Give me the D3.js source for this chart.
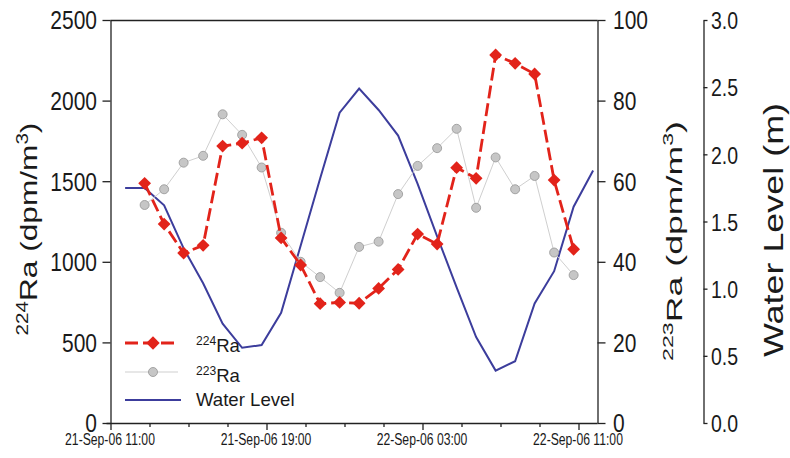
<!DOCTYPE html>
<html><head><meta charset="utf-8">
<script src="https://cdn.jsdelivr.net/npm/d3@7"></script>
<style>
body{margin:0;background:#fff}
svg{display:block}
text{font-family:"Liberation Sans",Arial,Helvetica,sans-serif;fill:#1a1a1a}
</style>
</head><body>
<svg id="c" width="790" height="458"></svg>
<script>
// ---------- data ----------
const sampleTimes = [
  "2006-09-21T12:45","2006-09-21T13:45","2006-09-21T14:45","2006-09-21T15:45",
  "2006-09-21T16:45","2006-09-21T17:45","2006-09-21T18:45","2006-09-21T19:45",
  "2006-09-21T20:45","2006-09-21T21:45","2006-09-21T22:45","2006-09-21T23:45",
  "2006-09-22T00:45","2006-09-22T01:45","2006-09-22T02:45","2006-09-22T03:45",
  "2006-09-22T04:45","2006-09-22T05:45","2006-09-22T06:45","2006-09-22T07:45",
  "2006-09-22T08:45","2006-09-22T09:45","2006-09-22T10:45"];
const ra224 = [1487,1234,1054,1102,1718,1736,1769,1148,980,740,748,743,
               835,953,1172,1110,1584,1518,2283,2231,2165,1507,1078];
const ra223 = [54.1,58.0,64.6,66.3,76.6,71.5,63.4,47.2,40.0,36.2,32.3,43.7,
               45.0,56.8,63.8,68.2,73.0,53.4,65.9,58.0,61.3,42.3,36.7];
const levelTimes = [
  "2006-09-21T11:45","2006-09-21T12:45","2006-09-21T13:45","2006-09-21T14:45",
  "2006-09-21T15:45","2006-09-21T16:45","2006-09-21T17:45","2006-09-21T18:45",
  "2006-09-21T19:45","2006-09-21T20:45","2006-09-21T21:45","2006-09-21T22:45",
  "2006-09-21T23:45","2006-09-22T00:45","2006-09-22T01:45","2006-09-22T02:45",
  "2006-09-22T03:45","2006-09-22T04:45","2006-09-22T05:45","2006-09-22T06:45",
  "2006-09-22T07:45","2006-09-22T08:45","2006-09-22T09:45","2006-09-22T10:45",
  "2006-09-22T11:45"];
const waterLevel = [1.75,1.75,1.62,1.30,1.04,0.74,0.56,0.58,0.82,1.32,1.82,2.31,
                    2.49,2.33,2.14,1.78,1.39,1.01,0.64,0.39,0.46,0.89,1.13,1.61,1.88];
const xDomain = ["2006-09-21T11:00","2006-09-22T12:00"];
const xTickTimes = ["2006-09-21T11:00","2006-09-21T13:00","2006-09-21T15:00","2006-09-21T17:00",
  "2006-09-21T19:00","2006-09-21T21:00","2006-09-21T23:00","2006-09-22T01:00",
  "2006-09-22T03:00","2006-09-22T05:00","2006-09-22T07:00","2006-09-22T09:00","2006-09-22T11:00"];
const xTickLabels = ["21-Sep-06 11:00","","","","21-Sep-06 19:00","","","",
  "22-Sep-06 03:00","","","","22-Sep-06 11:00"];
const y224Ticks = [0,500,1000,1500,2000,2500];
const y223Ticks = [0,20,40,60,80,100];
const levelTicks = [0,0.5,1.0,1.5,2.0,2.5,3.0];
const seriesNames = ["224Ra","223Ra","Water Level"];

// ---------- setup ----------
const P = d => new Date(d);
const svg = d3.select("#c");
const L = 110.5, R = 597.5, T = 20, B = 423, RW = 703.5;
const x = d3.scaleTime().domain(xDomain.map(P)).range([L, 598]);
const y224 = d3.scaleLinear().domain([0,2500]).range([B,T]);
const y223 = d3.scaleLinear().domain([0,100]).range([B,T]);
const yLvl = d3.scaleLinear().domain([0,3]).range([B,T]);

const RED = "#e2231a", BLUE = "#3c3d9c", GREYF = "#c6c6c6", GREYS = "#9c9c9c", AX = "#222";

// frame top line
svg.append("line").attr("x1",L).attr("x2",R).attr("y1",T+0.5).attr("y2",T+0.5)
  .attr("stroke",AX).attr("stroke-width",1.3);

function styleAxis(g){
  g.selectAll(".domain").attr("stroke",AX).attr("stroke-width",1.3);
  g.selectAll(".tick line").attr("stroke",AX).attr("stroke-width",1.3);
}
// left axis
const gL = svg.append("g").attr("transform",`translate(${L},0)`)
  .call(d3.axisLeft(y224).tickValues(y224Ticks).tickSize(8).tickSizeOuter(0).tickFormat(d3.format("d")));
styleAxis(gL);
gL.selectAll(".tick text").attr("x",null).attr("dy","0.35em").attr("font-size",21)
  .attr("fill","#1a1a1a").attr("transform","translate(-13.5,0) scale(1,1.2)");
// right 223 axis
const gR = svg.append("g").attr("transform",`translate(${R},0)`)
  .call(d3.axisRight(y223).tickValues(y223Ticks).tickSize(8).tickSizeOuter(0).tickFormat(d3.format("d")));
styleAxis(gR);
gR.selectAll(".tick text").attr("x",null).attr("dy","0.35em").attr("font-size",21)
  .attr("fill","#1a1a1a").attr("transform","translate(15.5,0) scale(1,1.2)");
// water level axis
const gW = svg.append("g").attr("transform",`translate(${RW},0)`)
  .call(d3.axisRight(yLvl).tickValues(levelTicks).tickSize(4).tickSizeOuter(0).tickFormat(d3.format(".1f")));
styleAxis(gW);
gW.selectAll(".tick text").attr("x",null).attr("dy","0.35em").attr("font-size",19.5)
  .attr("fill","#1a1a1a").attr("transform","translate(7.5,0) scale(1,1.27)");
// x axis
const gX = svg.append("g").attr("transform",`translate(0,${B})`)
  .call(d3.axisBottom(x).tickValues(xTickTimes.map(P)).tickSize(4).tickSizeOuter(0)
    .tickFormat((d,i)=>xTickLabels[i]));
styleAxis(gX);
gX.selectAll(".tick line").attr("y2",(d,i)=>xTickLabels[i] ? 7 : 4);
gX.selectAll(".tick text").filter((d,i)=>!xTickLabels[i]).remove();
gX.selectAll(".tick text").attr("y",null).attr("dy",null).attr("font-size",12.2)
  .attr("fill","#1a1a1a").attr("transform","translate(-1,22) scale(1,1.3)");
gX.select(".domain").attr("d",`M${L-4},0.5H${R}`);

// ---------- series ----------
const lvlData = levelTimes.map((t,i)=>({t:P(t),v:waterLevel[i]}));
const d224 = sampleTimes.map((t,i)=>({t:P(t),v:ra224[i]}));
const d223 = sampleTimes.map((t,i)=>({t:P(t),v:ra223[i]}));

svg.append("path").datum(lvlData).attr("fill","none").attr("stroke",BLUE).attr("stroke-width",2)
  .attr("d",d3.line().x(d=>x(d.t)).y(d=>yLvl(d.v)));

svg.append("path").datum(d223).attr("fill","none").attr("stroke","#cfcfcf").attr("stroke-width",1)
  .attr("d",d3.line().x(d=>x(d.t)).y(d=>y223(d.v)));
svg.append("g").selectAll("circle").data(d223).join("circle")
  .attr("cx",d=>x(d.t)).attr("cy",d=>y223(d.v)).attr("r",4.5)
  .attr("fill",GREYF).attr("stroke",GREYS).attr("stroke-width",0.9);

svg.append("path").datum(d224).attr("fill","none").attr("stroke",RED).attr("stroke-width",2.8)
  .attr("stroke-dasharray","13,5")
  .attr("d",d3.line().x(d=>x(d.t)).y(d=>y224(d.v)));
const diamond = d3.symbol().type(d3.symbolSquare).size(82);
svg.append("g").selectAll("path").data(d224).join("path")
  .attr("transform",d=>`translate(${x(d.t)},${y224(d.v)}) rotate(45)`)
  .attr("d",diamond).attr("fill",RED);

// ---------- legend ----------
const lg = svg.append("g");
lg.append("line").attr("x1",125).attr("x2",178).attr("y1",343).attr("y2",343)
  .attr("stroke",RED).attr("stroke-width",2.8).attr("stroke-dasharray","13,5");
lg.append("path").attr("transform","translate(153,343) rotate(45)").attr("d",d3.symbol().type(d3.symbolSquare).size(90)).attr("fill",RED);
lg.append("line").attr("x1",125).attr("x2",178).attr("y1",372).attr("y2",372)
  .attr("stroke","#cfcfcf").attr("stroke-width",1);
lg.append("circle").attr("cx",153).attr("cy",372).attr("r",4.5).attr("fill",GREYF).attr("stroke",GREYS).attr("stroke-width",0.9);
lg.append("line").attr("x1",125).attr("x2",181).attr("y1",400).attr("y2",400)
  .attr("stroke",BLUE).attr("stroke-width",2.2);

function supText(g, sup, main, after, size){
  const t = g.append("text").attr("font-size",size);
  t.append("tspan").attr("font-size",size*0.65).attr("dy",-size*0.38).text(sup);
  t.append("tspan").attr("dy",size*0.38).text(main);
  if(after){
    const p = after.split("|");
    t.append("tspan").text(p[0]);
    t.append("tspan").attr("font-size",size*0.65).attr("dy",-size*0.38).text(p[1]);
    t.append("tspan").attr("dy",size*0.38).text(p[2]);
  }
  return t;
}
const lt1 = supText(lg, seriesNames[0].slice(0,3), seriesNames[0].slice(3), null, 18.6);
lt1.attr("x",196).attr("y",352);
const lt2 = supText(lg, seriesNames[1].slice(0,3), seriesNames[1].slice(3), null, 18.6);
lt2.attr("x",196).attr("y",382);
lg.append("text").attr("x",196).attr("y",406).attr("font-size",18.6).text(seriesNames[2]);

// ---------- axis titles ----------
function fitTitle(t, cx, cy, target){
  t.attr("text-anchor","middle");
  const w = t.node().getBBox().width;
  t.attr("transform",`translate(${cx},${cy}) rotate(-90) scale(${target/w},1)`);
}
const tL = supText(svg.append("g"), "224", "Ra", " (dpm/m|3|)", 24);
fitTitle(tL, 37, 229, 213);
const tR = supText(svg.append("g"), "223", "Ra", " (dpm/m|3|)", 23);
fitTitle(tR, 682, 241, 240);
const tW = svg.append("text").attr("font-size",28).text("Water Level (m)");
fitTitle(tW, 783, 230, 254);
</script>
</body></html>
